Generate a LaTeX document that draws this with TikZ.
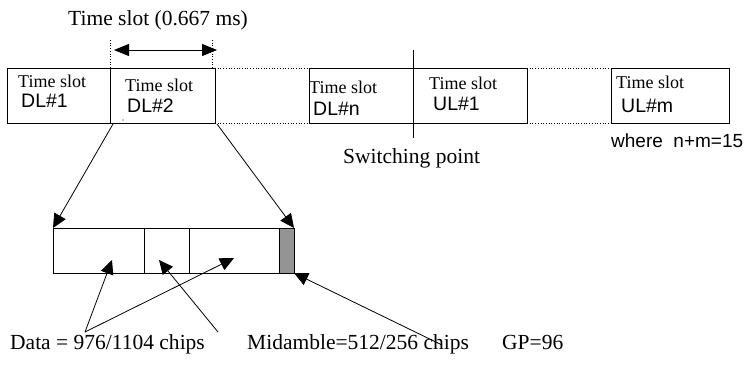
\documentclass[tikz,border=0pt]{standalone}
\usepackage{fontspec}
\setmainfont{Liberation Serif}
\newfontfamily\sansf{Liberation Sans}
\usetikzlibrary{arrows.meta}
\tikzset{
  slotbox/.style={draw, line width=0.9pt, minimum height=55pt, inner sep=0pt, outer sep=0pt, anchor=north west},
  subbox/.style={draw, line width=0.9pt, minimum height=45pt, inner sep=0pt, outer sep=0pt, anchor=north west},
  lbl/.style={inner sep=0pt, anchor=base west, font=\fontsize{21.5}{24}\selectfont},
  tsl/.style={inner sep=0pt, anchor=base west, font=\fontsize{18}{20}\selectfont},
  sl/.style={inner sep=0pt, anchor=base west, font=\sansf\fontsize{19.5}{22}\selectfont},
  dots/.style={dotted, line width=0.7pt},
  arr/.style={line width=0.8pt, -{Triangle[length=14pt,width=13pt]}},
  darr/.style={line width=0.9pt, {Triangle[length=15pt,width=12pt]}-{Triangle[length=15pt,width=12pt]}}
}
\begin{document}
\begin{tikzpicture}[x=1pt,y=-1pt]
\useasboundingbox (0,0) rectangle (754,370);
% top slots
\node[slotbox, minimum width=103pt] (b1) at (7,68) {};
\node[slotbox, minimum width=105pt] (b2) at (110,68) {};
\node[slotbox, minimum width=104pt] (b3) at (309,68) {};
\node[slotbox, minimum width=114pt] (b4) at (413,68) {};
\node[slotbox, minimum width=118pt] (b5) at (611,68) {};
\draw[dots] (b2.north east) -- (b3.north west);
\draw[dots] (b2.south east) -- (b3.south west);
\draw[dots] (b4.north east) -- (b5.north west);
\draw[dots] (b4.south east) -- (b5.south west);
% slot texts
\node[tsl] (t1) at (18,87) {Time slot};
\node[sl] (d1) at (21,107) {DL\#1};
\node[tsl] (t2) at (125,91) {Time slot};
\node[sl] (d2) at (127,112) {DL\#2};
\node[tsl] (t3) at (309,93) {Time slot};
\node[sl] (d3) at (313,115) {DL\#n};
\node[tsl] (t4) at (429,89) {Time slot};
\node[sl] (d4) at (433,110) {UL\#1};
\node[tsl] (t5) at (616,88) {Time slot};
\node[sl] (d5) at (621,112) {UL\#m};
\fill (123,120) circle (0.7pt);
% time slot width marker
\coordinate (v1a) at (110,40); \coordinate (v2a) at (212,40);
\coordinate (v2b) at (212,68);
\draw[dots] (v1a) -- (b2.north west);
\draw[dots] (v2a) -- (v2b);
\coordinate (da) at (114,50); \coordinate (db) at (217,50);
\draw[darr] (da) -- (db);
\node[lbl] (title) at (68,25) {Time slot (0.667 ms)};
% switching point
\coordinate (swa) at (413,50); \coordinate (swb) at (413,138);
\draw[line width=0.9pt] (swa) -- (swb);
\node[lbl] (swl) at (343,163) {Switching point};
\node[sl, font=\sansf\fontsize{19}{22}\selectfont] (where) at (611,147) {where\ \ n+m=15};
% burst
\node[subbox, minimum width=91pt] (s1) at (53,228) {};
\node[subbox, minimum width=45pt] (s2) at (144,228) {};
\node[subbox, minimum width=90pt] (s3) at (189,228) {};
\node[subbox, minimum width=15pt, fill=black!42] (gp) at (279,228) {};
% zoom arrows
\coordinate (z1) at (113,124); \coordinate (z2) at (217,124);
\draw[arr] (z1) -- (s1.north west);
\draw[arr] (z2) -- (gp.north east);
% bottom labels
\node[lbl] (data) at (10,349) {Data = 976/1104 chips};
\node[lbl] (mid) at (247,349) {Midamble=512/256 chips};
\node[lbl] (gpl) at (502,349) {GP=96};
\coordinate (dap) at (85,332);
\coordinate (dt1) at (112,260);
\coordinate (dt2) at (234,258);
\draw[arr] (dap) -- (dt1);
\draw[arr] (dap) -- (dt2);
\coordinate (map) at (218,332);
\coordinate (mt) at (159,260);
\draw[arr] (map) -- (mt);
\coordinate (gap) at (442,345);
\draw[arr] (gap) -- (gp.south east);
\end{tikzpicture}
\end{document}
